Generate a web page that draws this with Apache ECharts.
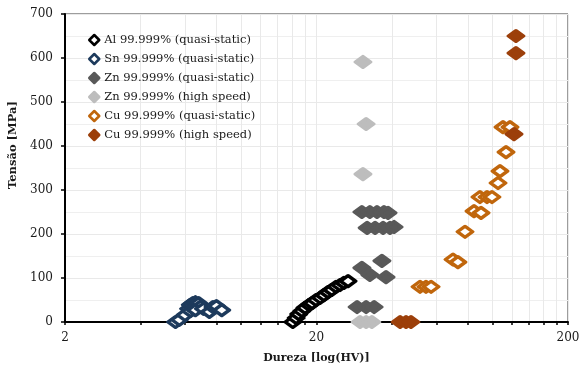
<!DOCTYPE html>
<html>
<head>
<meta charset="utf-8">
<script src="https://cdn.jsdelivr.net/npm/echarts@6/dist/echarts.min.js"></script>
<style>
html, body { margin: 0; padding: 0; background: #fff; }
#chart { width: 585px; height: 365px; }
</style>
</head>
<body>
<div id="chart"></div>
<script>
// Dureza (HV) x Tensão (MPa), leitura do gráfico
var alHV  = [16.1, 16.6, 17.0, 17.5, 18.0, 18.7, 19.2, 19.9, 20.7, 21.4, 22.2, 23.0, 23.9, 24.8, 25.7, 26.7];
var alMPa = [0, 9, 18, 25, 32, 39, 43, 50, 55, 61, 68, 73, 80, 84, 89, 93];

var snHV  = [5.5, 5.7, 6.0, 6.2, 6.3, 6.45, 6.6, 6.8, 6.95, 6.3, 6.6, 7.1, 7.5, 7.75, 8.0, 8.4];
var snMPa = [0, 5, 16, 30, 39, 43, 45, 43, 36, 25, 27, 30, 23, 34, 36, 27];

var znHV  = [30.3, 32.6, 34.8, 37.1, 38.5, 31.8, 34.2, 36.8, 39.2, 40.7, 36.4, 30.3, 32.6, 37.8, 29.0, 31.5, 33.9];
var znMPa = [250, 250, 250, 250, 248, 214, 214, 214, 214, 216, 139, 123, 107, 102, 34, 34, 34];

var znHsHV  = [30.6, 31.5, 30.6, 29.8, 31.5, 33.2];
var znHsMPa = [591, 450, 336, 0, 0, 0];

var cuHV  = [51.6, 54.5, 57.1, 69.8, 73.0, 77.9, 84.6, 90.2, 89.3, 95.3, 99.7, 105.4, 107.3, 113.4, 110.3, 117.6];
var cuMPa = [80, 80, 80, 142, 136, 205, 252, 248, 284, 284, 284, 316, 343, 386, 443, 443];

var cuHsHV  = [124.2, 124.2, 122.0, 43.0, 45.4, 47.5];
var cuHsMPa = [650, 611, 427, 0, 0, 0];

var names = ['Al 99.999% (quasi-static)', 'Sn 99.999% (quasi-static)', 'Zn 99.999% (quasi-static)',
             'Zn 99.999% (high speed)', 'Cu 99.999% (quasi-static)', 'Cu 99.999% (high speed)'];
var xTicks = [2, 4, 6, 8, 10, 12, 14, 16, 18, 20, 40, 60, 80, 100, 120, 140, 160, 180, 200];
var xLabels = [2, 20, 200];

function pts(xs, ys) {
    var out = [];
    for (var i = 0; i < xs.length; i++) {
        out.push([xs[i], ys[i]]);
    }
    return out;
}

var chart = echarts.init(document.getElementById('chart'));
var font = 'DejaVu Serif';

function mk(name, data, color, filled) {
    return {
        name: name,
        type: 'scatter',
        data: data,
        symbol: 'diamond',
        symbolSize: [15, 11],
        itemStyle: {
            color: filled ? color : '#fff',
            borderColor: color,
            borderWidth: 3.5,
            borderJoin: 'round',
            opacity: 1
        }
    };
}

var option = {
    backgroundColor: '#fff',
    animation: false,
    textStyle: { fontFamily: font },
    grid: {
        left: 65,
        right: 17,
        top: 14,
        bottom: 43,
        outerBoundsMode: 'none',
        show: true,
        borderColor: '#3a3a3a',
        borderWidth: 1
    },
    legend: {
        data: names,
        orient: 'vertical',
        left: 83,
        top: 28,
        itemWidth: 10,
        itemHeight: 10,
        itemGap: 5,
        textStyle: { fontFamily: font, fontSize: 11.5, color: '#1a1a1a', lineHeight: 14 },
        itemStyle: { borderWidth: 2.5 }
    },
    xAxis: {
        type: 'log',
        logBase: 10,
        min: 2,
        max: 200,
        name: 'Dureza [log(HV)]',
        nameLocation: 'middle',
        nameGap: 31,
        nameTextStyle: { fontFamily: font, fontWeight: 'bold', fontSize: 11, color: '#1a1a1a' },
        axisLine: { lineStyle: { color: '#000', width: 2 } },
        axisTick: { show: true, length: 3, customValues: xTicks, lineStyle: { color: '#000', width: 1.5 } },
        axisLabel: {
            customValues: xLabels,
            margin: 10,
            fontFamily: font,
            fontSize: 12,
            color: '#1a1a1a',
            formatter: function (v) { return String(Math.round(v)); }
        },
        splitLine: { show: true, lineStyle: { color: '#e9e9e9', width: 1 } }
    },
    yAxis: {
        type: 'value',
        min: 0,
        max: 700,
        interval: 100,
        name: 'Tensão [MPa]',
        nameLocation: 'middle',
        nameGap: 34,
        nameTextStyle: { fontFamily: font, fontWeight: 'bold', fontSize: 11.5, color: '#1a1a1a', padding: [0, 0, 0, 46] },
        axisLine: { show: true, lineStyle: { color: '#000', width: 2 } },
        axisTick: { show: true, length: 4, inside: false, lineStyle: { color: '#000', width: 1.5 } },
        axisLabel: { margin: 12, fontFamily: font, fontSize: 12, color: '#1a1a1a' },
        splitLine: { show: true, lineStyle: { color: '#e9e9e9', width: 1 } },
        minorTick: { show: false, splitNumber: 2 },
        minorSplitLine: { show: true, lineStyle: { color: '#efefef', width: 1 } }
    },
    series: [
        mk(names[0], pts(alHV, alMPa), '#000000', false),
        mk(names[1], pts(snHV, snMPa), '#1d3a5c', false),
        mk(names[2], pts(znHV, znMPa), '#595959', true),
        mk(names[3], pts(znHsHV, znHsMPa), '#bdbdbd', true),
        mk(names[4], pts(cuHV, cuMPa), '#c0660c', false),
        mk(names[5], pts(cuHsHV, cuHsMPa), '#9c3f0a', true)
    ]
};
chart.setOption(option);
</script>
</body>
</html>
